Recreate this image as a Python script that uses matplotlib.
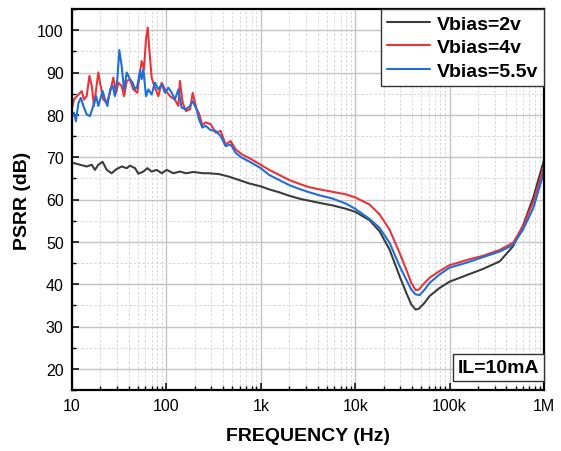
import matplotlib
matplotlib.use("Agg")
import matplotlib.pyplot as plt
from matplotlib.ticker import FixedLocator, FixedFormatter, LogLocator, MultipleLocator, NullFormatter
from matplotlib.offsetbox import AnchoredText

plt.rcParams['font.family'] = ['Liberation Sans', 'DejaVu Sans']

# ---------------- data ----------------
freq_2v = [10, 10.5, 12.2, 14.3, 16.2, 17.5, 19.0, 21.1, 23.3, 26.3, 29.7, 33.6, 38.0, 41.1,
           46.5, 50.5, 57.0, 62.8, 69.8, 78.9, 89.2, 101, 118, 139, 161, 193, 246, 282, 360,
           460, 589, 751, 1000, 1226, 1567, 2001, 2557, 3266, 4176, 5785, 8014, 10000, 14200,
           18100, 23100, 29500, 34700, 39300, 43600, 47300, 54300, 61400, 78300, 100000,
           128000, 163000, 226300, 340400, 471700, 602600, 770600, 1000000]
psrr_2v = [68.6, 68.6, 68.2, 67.8, 68.2, 67.0, 68.2, 68.9, 67.0, 66.2, 67.2, 67.8, 67.4, 68.0,
           67.4, 66.1, 66.6, 67.4, 66.6, 67.0, 66.2, 67.0, 66.2, 66.6, 66.2, 66.5, 66.2, 66.2, 66.0,
           65.4, 64.6, 63.8, 63.1, 62.4, 61.7, 60.9, 60.2, 59.7, 59.2, 58.6, 57.8, 57.1, 55.1,
           52.5, 48.2, 41.9, 38.0, 35.2, 34.0, 34.2, 35.6, 37.2, 39.1, 40.6,
           41.5, 42.4, 43.6, 45.4, 49.0, 54.0, 60.5, 69.3]

freq_4v = [10, 10.5, 11.7, 12.7, 13.4, 14.3, 15.3, 16.2, 17.1, 18.2, 19.0, 19.8, 21.5, 23.3,
           25.3, 27.4, 29.3, 31.0, 33.6, 35.6, 38.0, 41.1, 44.6, 49.2, 52.5, 54.7, 57.9, 60.8,
           63.4, 65.9, 69.8, 74.5, 82.2, 89.2, 96.7, 109, 123, 134, 139, 149, 161, 178, 190,
           209, 221, 240, 260, 294, 332, 375, 424, 480, 542, 638, 751, 1000, 1226, 1567, 2001,
           2557, 3266, 4176, 5785, 8014, 10000, 14200, 18100, 23100, 29500, 34700, 39300,
           43600, 47300, 52200, 61400, 78300, 100000, 128000, 163000, 226300, 340400, 471700,
           602600, 770600, 1000000]
psrr_4v = [81.5, 83.6, 84.8, 85.6, 83.6, 84.4, 89.2, 86.8, 82.1, 86.8, 90.0, 87.6, 83.6, 82.8,
           85.2, 88.8, 85.2, 87.6, 86.8, 84.4, 88.0, 88.4, 86.0, 85.2, 90.0, 92.7, 90.8, 97.9,
           100.6, 95.5, 88.8, 86.8, 84.4, 87.6, 86.0, 84.4, 83.6, 82.1, 88.0, 82.8, 80.9, 81.3, 85.2,
           81.3, 80.4, 77.6, 78.2, 77.8, 75.8, 76.2, 73.0, 73.8, 71.8, 70.6, 69.8, 68.2, 67.0, 65.8, 64.6,
           63.7, 62.9, 62.4, 61.8, 61.2, 60.5, 58.8, 56.5, 52.9, 47.4, 43.5, 40.3,
           38.6, 38.7, 39.9, 41.5, 43.1, 44.5, 45.2, 45.9, 46.7, 48.1, 49.8,
           53.8, 59.5, 67.7]

freq_55v = [10, 10.5, 11.0, 11.7, 12.4, 13.2, 14.3, 15.5, 16.8, 18.0, 19.0, 21.1, 22.4, 23.7,
            25.3, 27.0, 28.5, 30.2, 31.7, 33.6, 35.6, 38.0, 41.1, 43.9, 46.5, 49.2, 52.5, 54.7,
            57.0, 60.8, 64.4, 69.8, 75.7, 82.2, 89.2, 96.7, 105, 114, 123, 134, 145, 161, 178,
            190, 209, 221, 240, 260, 294, 332, 375, 424, 480, 542, 638, 751, 1000, 1226, 1567,
            2001, 2557, 3266, 4176, 5785, 8014, 10000, 14200, 18100, 23100, 29500, 34700,
            39300, 43600, 48100, 54300, 61400, 78300, 100000, 128000, 163000, 226300, 340400,
            471700, 602600, 770600, 1000000]
psrr_55v = [79.5, 80.5, 78.5, 82.8, 84.0, 82.1, 80.1, 79.7, 82.1, 84.4, 82.1, 85.6, 83.6, 82.1,
            86.0, 86.8, 84.4, 88.4, 95.3, 91.5, 86.0, 90.0, 88.4, 87.6, 86.0, 86.8, 90.4, 88.4,
            90.8, 84.4, 86.0, 84.8, 87.6, 86.0, 87.2, 85.2, 86.4, 85.2, 83.6, 86.0, 81.7, 81.3, 82.1,
            83.2, 81.3, 79.0, 77.0, 77.4, 76.4, 76.2, 75.0, 72.6, 73.0, 71.0, 69.8, 69.0, 67.4, 65.8, 64.6,
            63.4, 62.5, 61.7, 61.0, 60.2, 59.0, 57.8, 55.4, 53.3, 49.8, 44.3, 41.1,
            38.7, 37.6, 37.4, 38.7, 40.3, 42.3, 43.9, 44.6, 45.3, 46.4, 47.7,
            49.3, 53.0, 58.0, 66.5]

labels = ["Vbias=2v", "Vbias=4v", "Vbias=5.5v"]
colors = ["#3c3c3c", "#e8343a", "#1f6fd8"]
xtick_vals = [10, 100, 1000, 10000, 100000, 1000000]
xtick_labels = ["10", "100", "1k", "10k", "100k", "1M"]
ytick_vals = [20, 30, 40, 50, 60, 70, 80, 90, 100]

# ---------------- figure ----------------
fig = plt.figure(figsize=(5.61, 4.52), dpi=100)
ax = fig.add_axes([72 / 561, 1 - 391 / 452, (544 - 72) / 561, (391 - 10) / 452])

for f, v, lab, c in zip([freq_2v, freq_4v, freq_55v], [psrr_2v, psrr_4v, psrr_55v], labels, colors):
    ax.plot(f, v, color=c, lw=1.5, label=lab, solid_joinstyle="round", solid_capstyle="round")

ax.set_xscale("log")
ax.set_xlim(10, 1e6)
ax.set_ylim(15, 105)

ax.xaxis.set_major_locator(FixedLocator(xtick_vals))
ax.xaxis.set_major_formatter(FixedFormatter(xtick_labels))
ax.xaxis.set_minor_locator(LogLocator(base=10, subs=range(2, 10), numticks=20))
ax.xaxis.set_minor_formatter(NullFormatter())
ax.yaxis.set_major_locator(FixedLocator(ytick_vals))
ax.yaxis.set_minor_locator(MultipleLocator(5))

ax.tick_params(which="major", direction="in", length=5, width=1.1, labelsize=11.5, pad=6)
ax.tick_params(which="minor", direction="in", length=3, width=1.0)

ax.grid(which="major", color="#c4c4c4", lw=1.0, ls="-")
ax.grid(which="minor", color="#d6d6d6", lw=0.7, ls=(0, (2.5, 2)))
ax.set_axisbelow(True)

for s in ax.spines.values():
    s.set_linewidth(1.6)
    s.set_color("black")

ax.set_xlabel("FREQUENCY (Hz)", fontsize=14, fontweight="bold", labelpad=10)
ax.set_ylabel("PSRR (dB)", fontsize=14, fontweight="bold", labelpad=4)

leg = ax.legend(loc="upper right", borderaxespad=0.0,
                prop={"weight": "bold", "size": 14}, handlelength=2.2, handletextpad=0.35,
                labelspacing=0.3, borderpad=0.32, fancybox=False, framealpha=1,
                edgecolor="#333333")
leg.get_frame().set_linewidth(1.0)

at = AnchoredText("IL=10mA", loc="lower right", prop=dict(size=14, weight="bold"),
                  frameon=True, borderpad=0.0, pad=0.25,
                  bbox_to_anchor=(1.0, 0.024), bbox_transform=ax.transAxes)
at.patch.set_boxstyle("square,pad=0.0")
at.patch.set_edgecolor("#333333")
at.patch.set_linewidth(1.0)
ax.add_artist(at)

fig.savefig("out.png", dpi=100)
